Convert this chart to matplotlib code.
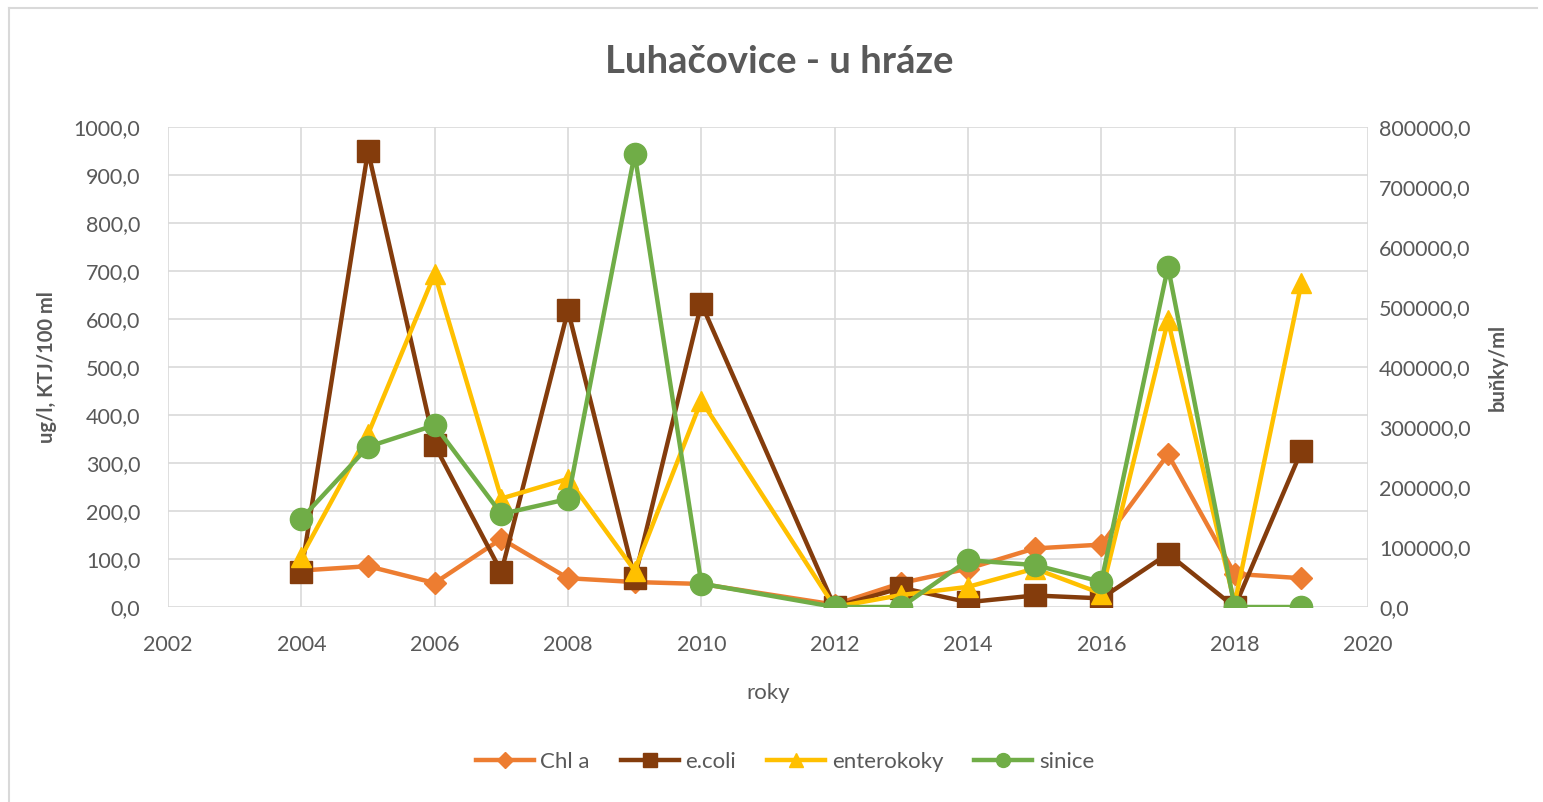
import matplotlib
matplotlib.use("Agg")
import matplotlib.pyplot as plt
from matplotlib.lines import Line2D
from matplotlib.ticker import FuncFormatter, MultipleLocator

years = [2004, 2005, 2006, 2007, 2008, 2009, 2010, 2012, 2013, 2014, 2015, 2016, 2017, 2018, 2019]
chl_a = [76, 85, 50, 142, 60, 52, 48, 5, 50, 80, 122, 130, 318, 69, 60]
e_coli = [73, 950, 337, 73, 618, 60, 632, 0, 40, 10, 24, 18, 111, 0, 325]
enterokoky = [105, 360, 694, 226, 267, 76, 430, 0, 25, 42, 80, 28, 597, 7, 674]
sinice = [147000, 267000, 303000, 155000, 180000, 755000, 39000, 0, 0, 78000, 70000, 42000, 567000, 0, 0]

title = "Luhačovice - u hráze"
left_label = "ug/l, KTJ/100 ml"
right_label = "buňky/ml"
x_label = "roky"
names = ["Chl a", "e.coli", "enterokoky", "sinice"]
colors = ["#ED7D31", "#843C0C", "#FFC000", "#70AD47"]

FONT = ["Lato", "DejaVu Sans"]
plt.rcParams["font.family"] = FONT
TXT = "#595959"

fig = plt.figure(figsize=(15.43, 8.02), dpi=100)
W, H = 1543, 802
ax = fig.add_axes([168 / W, (H - 607) / H, 1200 / W, 480 / H])
ax2 = ax.twinx()

lw = 3.2
ax.plot(years, chl_a, color=colors[0], lw=lw, marker="D", ms=11, zorder=3)
ax.plot(years, e_coli, color=colors[1], lw=lw, marker="s", ms=16, zorder=3)
ax.plot(years, enterokoky, color=colors[2], lw=lw, marker="^", ms=15, zorder=3)
ax2.plot(years, sinice, color=colors[3], lw=lw, marker="o", ms=16, zorder=3)

ax.set_xlim(2002, 2020)
ax.set_ylim(0, 1000)
ax2.set_ylim(0, 800000)
ax.xaxis.set_major_locator(MultipleLocator(2))
ax.yaxis.set_major_locator(MultipleLocator(100))
ax2.yaxis.set_major_locator(MultipleLocator(100000))
fmt = FuncFormatter(lambda v, p: f"{v:.1f}".replace(".", ","))
ax.yaxis.set_major_formatter(fmt)
ax2.yaxis.set_major_formatter(fmt)
ax.xaxis.set_major_formatter(FuncFormatter(lambda v, p: f"{int(v)}"))

ax.grid(True, color="#D9D9D9", lw=1.2)
ax.set_axisbelow(True)
for a in (ax, ax2):
    for s in a.spines.values():
        s.set_visible(False)
    a.tick_params(length=0, labelsize=15.5, labelcolor=TXT)
ax.tick_params(axis="y", pad=20)
ax2.tick_params(axis="y", pad=8)
ax.tick_params(axis="x", pad=20)

ax.set_ylabel(left_label, fontsize=14.5, color=TXT, fontweight="bold", labelpad=12)
ax2.set_ylabel(right_label, fontsize=14.5, color=TXT, fontweight="bold", rotation=90, labelpad=12)
ax.set_xlabel(x_label, fontsize=16, color=TXT, labelpad=20)

fig.text(779 / W, 1 - 62 / H, title, ha="center", va="center", fontsize=27.5, color=TXT, fontweight="bold")

handles = [
    Line2D([], [], color=colors[0], lw=lw, marker="D", ms=8),
    Line2D([], [], color=colors[1], lw=lw, marker="s", ms=10),
    Line2D([], [], color=colors[2], lw=lw, marker="^", ms=10),
    Line2D([], [], color=colors[3], lw=lw, marker="o", ms=10),
]
leg = fig.legend(handles, names, loc="center", bbox_to_anchor=(785 / W, 1 - 762 / H), ncol=4,
                 frameon=False, fontsize=16, handlelength=2.6, columnspacing=1.4, handletextpad=0.3)
for t in leg.get_texts():
    t.set_color(TXT)

# chart border (top and left)
fig.add_artist(Line2D([9 / W, 9 / W], [0, 1 - 8 / H], color="#D9D9D9", lw=1.5, transform=fig.transFigure))
fig.add_artist(Line2D([9 / W, 1537 / W], [1 - 8 / H, 1 - 8 / H], color="#D9D9D9", lw=1.5, transform=fig.transFigure))

fig.savefig("out.png", dpi=100)
